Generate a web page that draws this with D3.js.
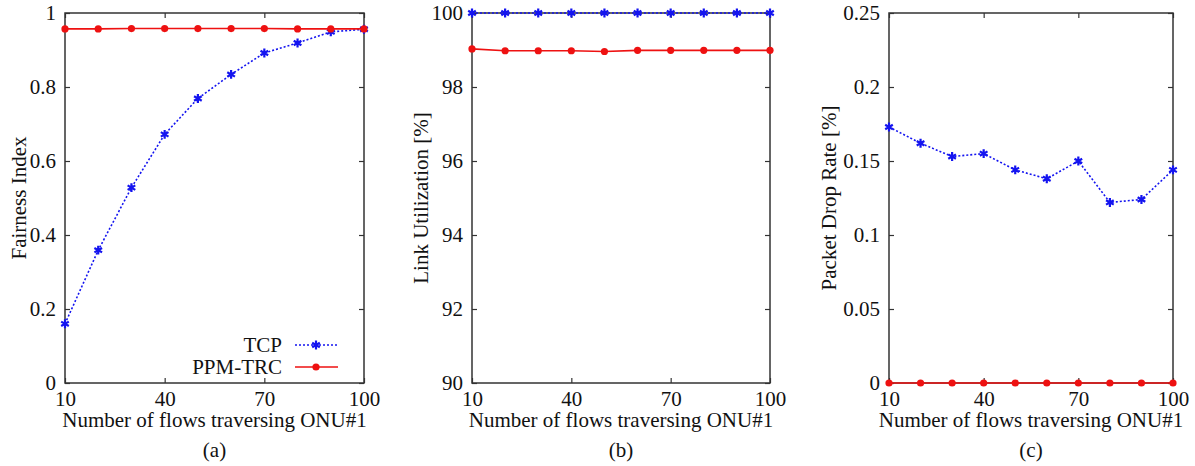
<!DOCTYPE html>
<html>
<head>
<meta charset="utf-8">
<script src="https://cdn.jsdelivr.net/npm/d3@7"></script>
<style>
  body { margin: 0; background: #fff; }
  svg text { font-family: "Liberation Serif", "Times New Roman", serif; fill: #111; }
</style>
</head>
<body>
<div id="chart"></div>
<script>
// x values shared by all three panels
const flows = [10, 20, 30, 40, 50, 60, 70, 80, 90, 100];
const xTicks = [10, 40, 70, 100];

// (a) fairness index
const fairTCP = [0.160, 0.359, 0.528, 0.672, 0.769, 0.834, 0.892, 0.919, 0.949, 0.956];
const fairPPM = [0.957, 0.957, 0.958, 0.958, 0.958, 0.958, 0.958, 0.957, 0.957, 0.957];
const fairTicks = [0, 0.2, 0.4, 0.6, 0.8, 1];

// (b) link utilization [%]
const utilTCP = [100, 100, 100, 100, 100, 100, 100, 100, 100, 100];
const utilPPM = [99.03, 98.98, 98.98, 98.98, 98.96, 98.99, 98.99, 98.99, 98.99, 98.99];
const utilTicks = [90, 92, 94, 96, 98, 100];

// (c) packet drop rate [%]
const dropTCP = [0.173, 0.162, 0.153, 0.155, 0.144, 0.138, 0.150, 0.122, 0.124, 0.144];
const dropPPM = [0, 0, 0, 0, 0, 0, 0, 0, 0, 0];
const dropTicks = [0, 0.05, 0.1, 0.15, 0.2, 0.25];

const seriesNames = ["TCP", "PPM-TRC"];

const blue = "#1414f0";
const red = "#ee1111";
const frameColor = "#333";
const fontSize = "21px";

const svg = d3.select("#chart")
    .append("svg")
    .attr("width", 1195)
    .attr("height", 466);

const plotTop = 13, plotBottom = 383;

const panels = [
    { left: 65, right: 364, tcp: fairTCP, ppm: fairPPM, ticks: fairTicks, domain: [0, 1],
      ylabel: "Fairness Index", ylabelX: 19, caption: "(a)", legend: true },
    { left: 472, right: 770, tcp: utilTCP, ppm: utilPPM, ticks: utilTicks, domain: [90, 100],
      ylabel: "Link Utilization [%]", ylabelX: 421, caption: "(b)", legend: false },
    { left: 889, right: 1173, tcp: dropTCP, ppm: dropPPM, ticks: dropTicks, domain: [0, 0.25],
      ylabel: "Packet Drop Rate [%]", ylabelX: 829, caption: "(c)", legend: false }
];

const star = d3.symbol().type(d3.symbolAsterisk).size(55);

panels.forEach(p => {
    const x = d3.scaleLinear().domain([10, 100]).range([p.left, p.right]);
    const y = d3.scaleLinear().domain(p.domain).range([plotBottom, plotTop]);
    const g = svg.append("g");

    // inward ticks on all four sides
    const axes = [
        [d3.axisBottom(x).tickValues(xTicks).tickSize(-5).tickPadding(8).tickFormat(d => d), `translate(0,${plotBottom})`],
        [d3.axisTop(x).tickValues(xTicks).tickSize(-5).tickFormat(""), `translate(0,${plotTop})`],
        [d3.axisLeft(y).tickValues(p.ticks).tickSize(-5).tickPadding(9).tickFormat(d => d), `translate(${p.left},0)`],
        [d3.axisRight(y).tickValues(p.ticks).tickSize(-5).tickFormat(""), `translate(${p.right},0)`]
    ];
    axes.forEach(([ax, tr]) => {
        const a = g.append("g").attr("transform", tr).call(ax);
        a.select(".domain").remove();
        a.selectAll("line").attr("stroke", frameColor).attr("stroke-width", 1.2);
        a.selectAll("text").style("font-size", fontSize).attr("fill", "#111")
            .style("font-family", "Liberation Serif, serif");
    });

    // frame
    g.append("rect")
        .attr("x", p.left).attr("y", plotTop)
        .attr("width", p.right - p.left).attr("height", plotBottom - plotTop)
        .attr("fill", "none").attr("stroke", frameColor).attr("stroke-width", 1.5);

    const line = d3.line().x((d, i) => x(flows[i])).y(d => y(d));

    // TCP
    g.append("path").datum(p.tcp)
        .attr("d", line).attr("fill", "none")
        .attr("stroke", blue).attr("stroke-width", 1.6).attr("stroke-dasharray", "2,2");
    g.selectAll(".tcp").data(p.tcp).enter().append("path")
        .attr("class", "tcp")
        .attr("transform", (d, i) => `translate(${x(flows[i])},${y(d)})`)
        .attr("d", star).attr("fill", "none").attr("stroke", blue).attr("stroke-width", 2.2);

    // PPM-TRC
    g.append("path").datum(p.ppm)
        .attr("d", line).attr("fill", "none")
        .attr("stroke", red).attr("stroke-width", 1.6);
    g.selectAll(".ppm").data(p.ppm).enter().append("circle")
        .attr("class", "ppm")
        .attr("cx", (d, i) => x(flows[i])).attr("cy", d => y(d))
        .attr("r", 3.6).attr("fill", red);

    // axis titles and caption
    const mid = (p.left + p.right) / 2;
    g.append("text").attr("x", mid).attr("y", 427)
        .attr("text-anchor", "middle").style("font-size", fontSize)
        .text("Number of flows traversing ONU#1");
    g.append("text").attr("x", mid).attr("y", 457)
        .attr("text-anchor", "middle").style("font-size", fontSize)
        .text(p.caption);
    g.append("text")
        .attr("transform", `translate(${p.ylabelX},${(plotTop + plotBottom) / 2}) rotate(-90)`)
        .attr("text-anchor", "middle").attr("dy", "0.35em").style("font-size", fontSize)
        .text(p.ylabel);

    if (p.legend) {
        const rows = [[seriesNames[0], blue, true], [seriesNames[1], red, false]];
        rows.forEach(([name, col, isTcp], k) => {
            const ly = 345 + k * 22;
            g.append("text").attr("x", 282).attr("y", ly).attr("dy", "0.35em")
                .attr("text-anchor", "end").style("font-size", fontSize).text(name);
            g.append("line").attr("x1", 295).attr("x2", 338).attr("y1", ly).attr("y2", ly)
                .attr("stroke", col).attr("stroke-width", 1.6)
                .attr("stroke-dasharray", isTcp ? "2,2" : null);
            if (isTcp) {
                g.append("path").attr("transform", `translate(316,${ly})`)
                    .attr("d", star).attr("fill", "none").attr("stroke", col).attr("stroke-width", 2.2);
            } else {
                g.append("circle").attr("cx", 316).attr("cy", ly).attr("r", 3.6).attr("fill", col);
            }
        });
    }
});
</script>
</body>
</html>
